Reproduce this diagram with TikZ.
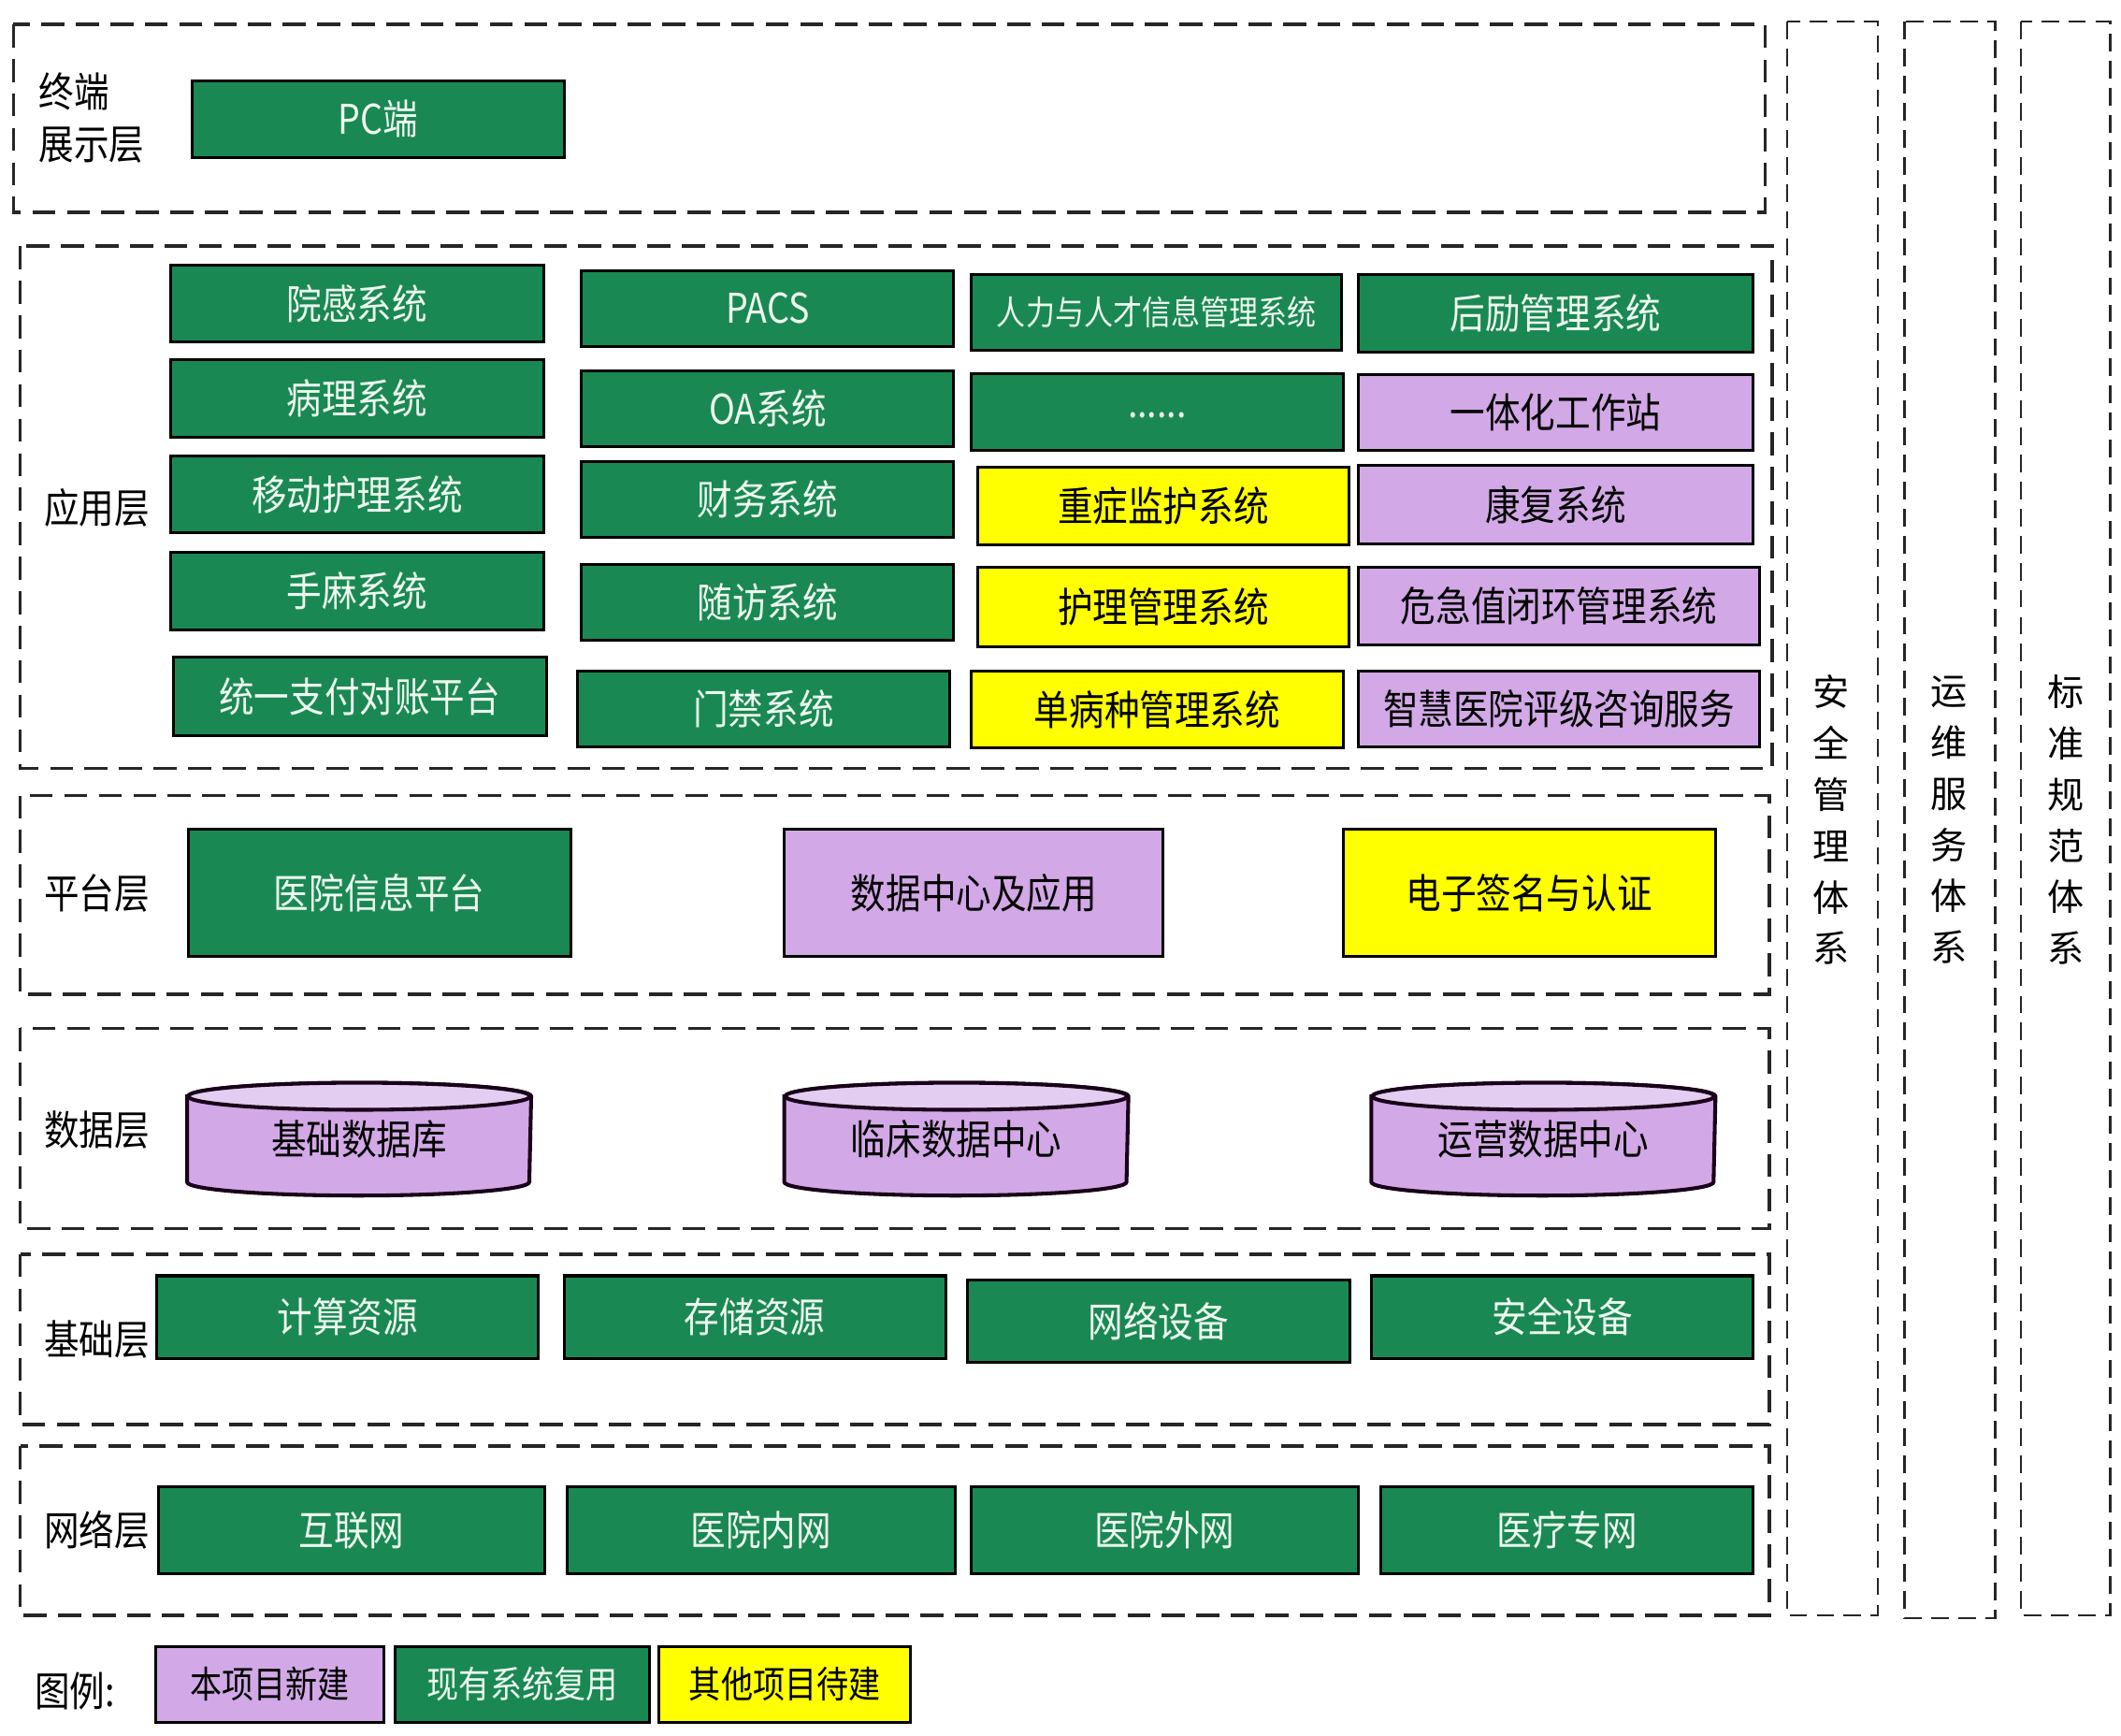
\documentclass[tikz,border=0pt]{standalone}
\usepackage{fontspec}
\setmainfont{Noto Sans CJK SC}[FakeStretch=0.86]
\newfontfamily\sidefont{Noto Sans CJK SC}
\usetikzlibrary{positioning,backgrounds}
\definecolor{sysgreen}{RGB}{26,136,82}
\definecolor{syspurple}{RGB}{210,168,230}
\definecolor{syspurpletop}{RGB}{227,206,241}
\definecolor{sysyellow}{RGB}{255,255,0}
\definecolor{textmint}{RGB}{236,250,240}

\begin{document}
\begin{tikzpicture}[
  x=0.1mm, y=-0.1mm,
  sys/.style={draw=black, line width=0.6pt, inner sep=0pt,
              minimum width=27.5mm, minimum height=5.7mm,
              font=\fontsize{8.6}{10}\selectfont},
  gbox/.style={sys, fill=sysgreen, text=textmint},
  pbox/.style={sys, fill=syspurple, text=black},
  ybox/.style={sys, fill=sysyellow, text=black},
  dbase/.style={inner sep=0pt, minimum width=25.3mm, minimum height=8.2mm,
                font=\fontsize{8.6}{10}\selectfont},
  layer/.style={draw=black!85, line width=0.7pt, dash pattern=on 1.7mm off 0.85mm},
  pillar/.style={draw=black!85, line width=0.45pt, dash pattern=on 1.3mm off 0.7mm},
  lbl/.style={anchor=west, inner sep=0pt, align=left,
              font=\fontsize{8.6}{11}\selectfont},
  side/.style={align=center, inner sep=0pt,
               font=\sidefont\fontsize{7.7}{10.8}\selectfont}
]
  \useasboundingbox (0,0) rectangle (1568,1283);

  % 分层虚线框
  \draw[layer] (10,18) rectangle (1305,157);
  \draw[layer] (15,182) rectangle (1310,568);
  \draw[layer] (15,588) rectangle (1308,735);
  \draw[layer] (15,760) rectangle (1308,908);
  \draw[layer] (15,927) rectangle (1308,1053);
  \draw[layer] (15,1069) rectangle (1308,1194);

  % 右侧体系
  \draw[pillar] (1321,16) rectangle (1388,1194);
  \draw[pillar] (1408,16) rectangle (1475,1196);
  \draw[pillar] (1494,16) rectangle (1560,1194);
  \node[side] (safety) at (1354,606) {安\\全\\管\\理\\体\\系};
  \node[side] (ops)    at (1441,606) {运\\维\\服\\务\\体\\系};
  \node[side] (norm)   at (1527.5,606) {标\\准\\规\\范\\体\\系};

  % 终端展示层
  \node[lbl] (lterm) at (28,87) {终端\\展示层};
  \node[gbox] (pc) at (279.5,88) {PC端};

  % 应用层
  \node[lbl] (lapp) at (32,375) {应用层};
  \node[gbox, minimum width=27.6mm] (yuangan) at (264,224.5) {院感系统};
  \node[gbox, minimum width=27.6mm] (bingli)  at (264,294.5) {病理系统};
  \node[gbox, minimum width=27.6mm] (ydhl)    at (264,365.5) {移动护理系统};
  \node[gbox, minimum width=27.6mm] (shouma)  at (264,437)   {手麻系统};
  \node[gbox, minimum width=27.6mm, minimum height=5.8mm] (zhifu) at (266,515) {统一支付对账平台};

  \node[gbox, minimum height=5.6mm] (pacs)    at (567.5,228) {PACS};
  \node[gbox, minimum height=5.6mm] (oa)      at (567.5,302) {OA系统};
  \node[gbox, minimum height=5.6mm] (caiwu)   at (567.5,369) {财务系统};
  \node[gbox, minimum height=5.6mm] (suifang) at (567.5,445) {随访系统};
  \node[gbox, minimum height=5.6mm] (menjin)  at (564.5,524) {门禁系统};

  \node[gbox, minimum width=27.4mm, minimum height=5.6mm,
        font=\fontsize{7.1}{9}\selectfont] (renli) at (855,231) {人力与人才信息管理系统};
  \node[gbox] (more) at (855.5,304.5) {\raisebox{-0.9mm}{......}};
  \node[ybox, minimum width=27.4mm, minimum height=5.8mm] (zhongzheng) at (860,374) {重症监护系统};
  \node[ybox, minimum width=27.4mm, minimum height=5.9mm] (huli) at (860,448.5) {护理管理系统};
  \node[ybox] (danbing) at (855.5,524.5) {单病种管理系统};

  \node[gbox, minimum width=29.2mm] (houqin) at (1150,231.5) {后励管理系统};
  \node[pbox, minimum width=29.2mm, minimum height=5.6mm] (yiti) at (1150,305) {一体化工作站};
  \node[pbox, minimum width=29.2mm, minimum height=5.8mm] (kangfu) at (1150,373) {康复系统};
  \node[pbox, minimum width=29.7mm, minimum height=5.8mm] (weiji) at (1152.5,448) {危急值闭环管理系统};
  \node[pbox, minimum width=29.7mm, minimum height=5.6mm] (zhihui) at (1152.5,524) {智慧医院评级咨询服务};

  % 平台层
  \node[lbl] (lplat) at (32,660) {平台层};
  \node[gbox, minimum width=28.3mm, minimum height=9.4mm] (hip) at (280.5,660) {医院信息平台};
  \node[pbox, minimum width=28.0mm, minimum height=9.4mm] (dc) at (720,660) {数据中心及应用};
  \node[ybox, minimum width=27.5mm, minimum height=9.4mm] (esign) at (1130.5,660) {电子签名与认证};

  % 数据层
  \node[lbl] (ldata) at (32,835) {数据层};
  \node[dbase] (dbbase) at (265.5,842) {基础数据库};
  \node[dbase] (dbclin) at (707,842)   {临床数据中心};
  \node[dbase] (dbops)  at (1141,842)  {运营数据中心};
  \begin{scope}[on background layer]
    \foreach \n in {dbbase,dbclin,dbops}{
      \draw[line width=0.8pt, draw=black!80!violet, fill=syspurple]
        ([yshift=-1mm]\n.north west) -- ([yshift=1mm]\n.south west)
        arc[start angle=180, end angle=360, x radius=12.65mm, y radius=1mm]
        -- ([yshift=-1mm]\n.north east)
        arc[start angle=0, end angle=180, x radius=12.65mm, y radius=1mm] -- cycle;
      \draw[line width=0.8pt, draw=black!80!violet, fill=syspurpletop]
        ([yshift=-1mm]\n.north) ellipse[x radius=12.65mm, y radius=1mm];
    }
  \end{scope}

  % 基础层
  \node[lbl] (lbase) at (32,990) {基础层};
  \node[gbox, minimum width=28.2mm, minimum height=6.1mm] (compute) at (257,973.5) {计算资源};
  \node[gbox, minimum width=28.2mm, minimum height=6.1mm] (storage) at (558,973.5) {存储资源};
  \node[gbox, minimum width=28.3mm, minimum height=6.1mm] (netdev)  at (856.5,976.5) {网络设备};
  \node[gbox, minimum width=28.2mm, minimum height=6.1mm] (secdev)  at (1155,973.5) {安全设备};

  % 网络层
  \node[lbl] (lnet) at (32,1131) {网络层};
  \node[gbox, minimum width=28.6mm, minimum height=6.4mm] (internet) at (260,1131) {互联网};
  \node[gbox, minimum width=28.7mm, minimum height=6.4mm] (intranet) at (562.5,1131) {医院内网};
  \node[gbox, minimum width=28.6mm, minimum height=6.4mm] (extranet) at (861,1131) {医院外网};
  \node[gbox, minimum width=27.5mm, minimum height=6.4mm] (mednet)   at (1158.5,1131) {医疗专网};

  % 图例
  \node[lbl] (lgtitle) at (25,1250) {图例:};
  \node[pbox, minimum width=16.9mm, minimum height=5.6mm,
        font=\fontsize{7.8}{9}\selectfont] (lgnew) at (199.5,1245) {本项目新建};
  \node[gbox, minimum width=18.8mm, minimum height=5.6mm,
        font=\fontsize{7.8}{9}\selectfont, right=0.6mm of lgnew] (lgreuse) {现有系统复用};
  \node[ybox, minimum width=18.6mm, minimum height=5.6mm,
        font=\fontsize{7.8}{9}\selectfont, right=0.5mm of lgreuse] (lgwait) {其他项目待建};
\end{tikzpicture}
\end{document}
